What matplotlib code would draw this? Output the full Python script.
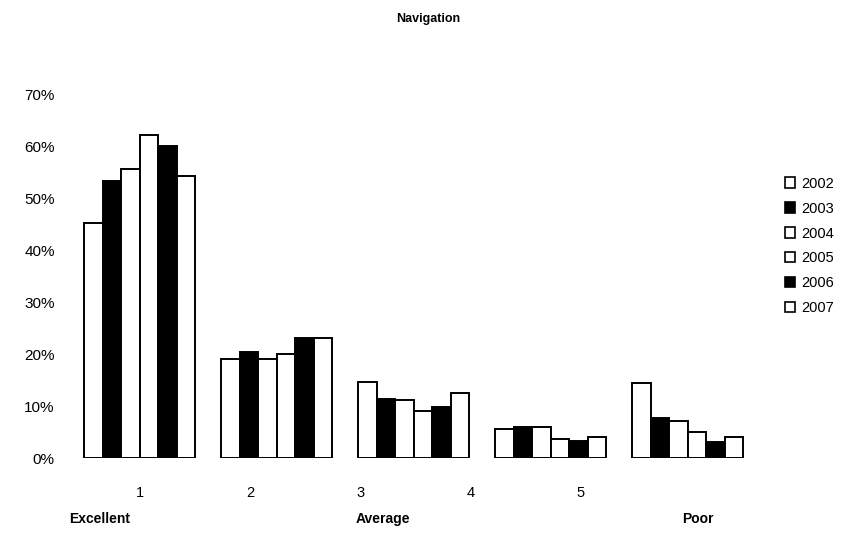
import numpy as np
import matplotlib
matplotlib.use("Agg")
import matplotlib.pyplot as plt
from matplotlib.patches import Patch

plt.rcParams['font.family'] = ['Liberation Sans', 'DejaVu Sans']

# Survey data: share of responses per rating, by year
ratings = ["1", "2", "3", "4", "5"]
scale_words = ["Excellent", "Average", "Poor"]
years = ["2002", "2003", "2004", "2005", "2006", "2007"]
pct_2002 = [45.2, 19.0, 14.6, 5.6, 14.4]
pct_2003 = [53.3, 20.4, 11.3, 6.0, 7.7]
pct_2004 = [55.6, 19.0, 11.2, 6.0, 7.1]
pct_2005 = [62.1, 20.0, 9.0, 3.6, 5.0]
pct_2006 = [60.0, 23.1, 9.8, 3.3, 3.1]
pct_2007 = [54.2, 23.1, 12.5, 4.0, 4.0]
yticks = [0, 10, 20, 30, 40, 50, 60, 70]

series = [pct_2002, pct_2003, pct_2004, pct_2005, pct_2006, pct_2007]
fills = ["white", "black", "white", "white", "black", "white"]

fig = plt.figure(figsize=(8.56, 5.44), dpi=100)
ax = fig.add_axes([70 / 856, 86 / 544, 700 / 856, 364 / 544])

n = len(years)
width = 0.135
x = np.arange(len(ratings))
for i, (vals, fc) in enumerate(zip(series, fills)):
    offs = (i - (n - 1) / 2) * width
    ax.bar(x + offs, np.array(vals) / 100, width, color=fc,
           edgecolor="black", linewidth=1.4, label=years[i])

ax.set_xlim(-0.51, 4.6)
ax.set_ylim(0, 0.70)
ax.set_yticks(np.array(yticks) / 100)
ax.set_yticklabels([f"{t}%" for t in yticks])
ax.set_xticks(np.arange(len(ratings)) * 0.805)
ax.set_xticklabels(ratings)
ax.tick_params(axis="y", length=0, pad=11, labelsize=11)
ax.tick_params(axis="x", length=0, pad=20, labelsize=10.5)
for s in ax.spines.values():
    s.set_visible(False)

# Scale words under the rating numbers
for word, xf in zip(scale_words, [0.043, 0.447, 0.897]):
    ax.text(xf, -0.168, word, transform=ax.transAxes, ha="center",
            va="center", fontsize=10, fontweight="bold")

fig.text(428 / 856, 1 - 19 / 544, "Navigation", ha="center", va="center",
         fontsize=9, fontweight="bold")

handles = [Patch(facecolor=fc, edgecolor="black", linewidth=1.2)
           for fc in fills]
fig.legend(handles, years, loc="center left",
           bbox_to_anchor=(772 / 856, 1 - 246 / 544), frameon=False,
           fontsize=10.5, labelspacing=0.75, handlelength=0.7,
           handleheight=0.7, handletextpad=0.4)

fig.savefig("out.png", dpi=100)
